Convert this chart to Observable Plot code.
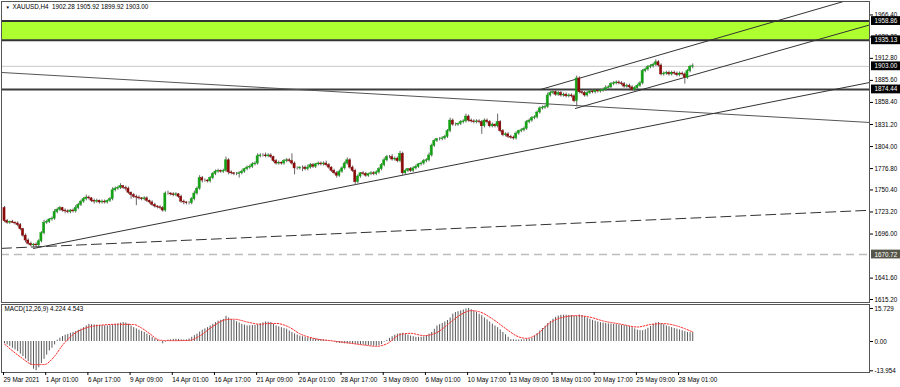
<!DOCTYPE html>
<html><head><meta charset="utf-8">
<script src="https://cdn.jsdelivr.net/npm/d3@7"></script>
<script src="https://cdn.jsdelivr.net/npm/@observablehq/plot@0.6"></script>
<style>
html,body{margin:0;padding:0;background:#fff;}
#chart{width:900px;height:387px;overflow:hidden;position:relative;}
#chart svg{display:block;overflow:visible;}
</style></head><body><div id="chart"></div>
<script>
// ---------- data (XAUUSD H4, one entry per bar) ----------
const title = "XAUUSD,H4  1902.28 1905.92 1899.92 1903.00";
const macdTitle = "MACD(12,26,9) 4.224 4.543";
const firstOpen = 1728;
const closes = [
1712,1710,1711,1710,1709,1707,1702,1694,1688,1684,
1682,1683,1682,1687,1697,1710,1711,1714,1715,1723,
1726,1728,1725,1724,1723,1725,1724,1728,1732,1736,
1739,1741,1740,1737,1736,1737,1735,1736,1735,1737,
1739,1750,1752,1753,1755,1753,1752,1747,1744,1742,
1741,1740,1739,1740,1737,1735,1732,1730,1729,1728,
1725,1746,1746,1745,1744,1745,1742,1736,1735,1734,
1734,1739,1746,1752,1765,1762,1762,1761,1765,1770,
1773,1774,1773,1774,1787,1772,1771,1770,1770,1771,
1773,1776,1778,1779,1782,1783,1792,1793,1793,1792,
1793,1791,1786,1783,1784,1783,1786,1787,1786,1783,
1777,1777,1778,1778,1776,1778,1781,1779,1782,1783,
1782,1783,1781,1778,1774,1771,1768,1773,1777,1783,
1787,1778,1774,1760,1767,1771,1770,1768,1770,1771,
1770,1772,1776,1781,1787,1791,1791,1788,1789,1786,
1795,1771,1774,1776,1774,1777,1779,1782,1783,1786,
1787,1793,1805,1811,1813,1813,1814,1816,1823,1836,
1831,1831,1832,1834,1835,1841,1836,1835,1834,1835,
1834,1829,1836,1834,1829,1831,1829,1834,1823,1818,
1819,1816,1815,1814,1820,1823,1824,1826,1834,1836,
1839,1840,1846,1851,1852,1853,1867,1870,1871,1868,
1870,1867,1868,1866,1867,1866,1860,1888,1871,1870,
1867,1870,1872,1871,1873,1872,1873,1874,1876,1877,
1881,1882,1883,1882,1881,1878,1879,1877,1874,1876,
1879,1882,1897,1899,1902,1903,1905,1908,1904,1893,
1894,1895,1893,1895,1894,1892,1894,1893,1889,1897,
1902.28,1903.00];
const upperWick = [
2,2,1,2,1,2,2,1,2,2, 2,1,2,2,2,3,2,1,2,3, 2,2,1,2,2,1,2,3,2,2, 2,3,2,1,2,2,1,2,2,1,
2,3,2,2,3,1,2,2,1,2, 2,2,1,2,2,1,2,2,1,2, 2,2,3,1,2,2,1,2,2,1, 2,2,3,2,3,2,2,1,2,2,
2,2,1,2,4,2,2,1,2,2, 2,1,2,2,2,2,3,2,2,3, 2,2,1,2,2,1,2,2,2,9, 2,2,1,2,2,3,2,2,1,2,
2,2,3,2,1,2,2,2,2,2, 3,2,2,2,2,1,2,2,1,2, 2,2,2,2,3,2,2,3,2,2, 3,2,2,1,2,2,2,1,2,2,
2,3,2,2,1,2,2,2,2,3, 2,2,1,2,2,3,2,2,2,2, 2,2,2,2,2,2,1,10,2,2, 2,2,2,2,2,1,2,2,2,2,
2,2,2,2,2,2,3,2,2,2, 2,2,2,2,2,2,2,3,2,2, 2,2,3,2,2,2,2,2,3,2, 2,2,2,2,2,2,2,2,2,2,
2,2,2,2,2,2,2,3,2,2, 2,2,2,2,2,2,2,2,2,2, 2,2.92];
const lowerWick = [
2,2,2,1,2,2,2,2,3,2, 2,3,3,2,2,2,2,2,2,2, 2,2,2,3,2,2,2,2,2,2, 2,2,2,2,3,2,2,2,2,2,
2,2,2,2,2,2,3,2,5,2, 10,2,2,2,2,2,2,2,2,2, 2,2,2,2,2,2,2,2,3,2, 2,2,2,2,2,3,2,2,2,2,
2,2,2,2,2,3,2,2,2,5, 2,2,2,2,2,2,2,2,2,2, 2,2,2,2,2,2,2,2,2,2, 8,2,2,5,2,2,2,2,2,2,
2,2,2,2,2,2,3,2,2,2, 2,2,2,4,2,2,2,2,2,2, 2,2,2,2,2,2,2,2,2,2, 2,3,2,2,2,2,2,2,2,2,
2,2,2,2,2,2,2,2,2,2, 2,2,2,2,2,2,2,2,2,2, 2,10,2,2,2,2,2,2,2,2, 2,2,2,2,2,2,2,2,2,2,
2,2,2,2,2,2,2,2,2,2, 2,2,2,2,2,2,2,7,2,2, 2,2,2,2,2,2,2,2,2,2, 2,2,2,2,2,2,2,2,2,2,
2,2,2,2,2,2,2,2,2,2, 2,2,2,2,2,2,2,2,8,2, 2,2.36];
const macdMain = [
-1.0,-1.6,-2.3,-3.2,-4.0,-4.8,-6.0,-7.2,-8.4,-9.6,
-11.4,-13.2,-13.9,-12.5,-10.5,-8.5,-6.5,-4.5,-3.2,-1.6,
0.6,1.6,2.4,3.0,3.4,3.9,4.3,4.7,5.3,5.9,
6.6,7.4,8.2,8.0,7.9,7.8,7.7,7.6,7.5,7.4,
7.6,7.9,8.2,8.4,8.7,9.0,8.8,8.2,7.4,6.6,
6.0,5.4,4.8,4.3,3.5,2.8,2.0,1.2,0.6,0.2,
-1.1,-0.3,0.6,0.8,1.0,1.1,1.0,0.8,0.7,0.8,
1.2,2.0,2.8,3.5,4.5,5.4,6.0,6.6,7.4,8.2,
9.0,9.7,10.1,10.5,12.0,11.2,10.5,10.0,9.4,8.8,
8.2,7.8,7.4,7.5,7.6,7.7,8.0,8.5,8.9,9.3,
9.2,9.0,8.2,7.4,7.0,6.6,6.2,5.9,5.0,4.3,
3.6,3.1,2.6,2.3,2.0,1.7,1.5,1.3,1.2,1.0,
0.9,0.8,0.6,0.4,0.2,-0.3,-0.8,-0.9,-1.0,-1.1,
-1.1,-1.2,-1.3,-1.4,-1.5,-1.6,-1.7,-1.9,-2.0,-2.1,
-2.2,-2.3,-2.0,-1.5,-0.3,0.5,1.5,2.3,3.0,3.5,
3.8,3.9,3.3,3.0,2.6,2.3,2.0,2.0,2.0,2.2,
2.8,3.5,4.3,5.8,7.4,8.0,8.6,9.3,10.0,11.2,
13.0,13.8,14.2,14.6,15.0,15.5,15.7,15.1,14.5,13.8,
13.0,12.3,11.2,10.3,9.3,8.3,7.4,6.6,5.5,4.3,
3.2,2.0,0.9,0.8,0.7,0.7,0.8,0.8,0.9,1.1,
1.6,2.4,3.8,5.0,6.2,7.3,8.5,9.6,10.6,11.5,
12.1,12.5,12.5,12.5,12.4,12.3,12.1,12.0,12.6,12.4,
11.8,11.2,10.6,10.1,9.7,9.3,9.0,8.8,8.6,8.4,
8.3,8.1,8.0,7.9,7.7,7.5,7.3,7.0,6.6,6.0,
5.4,5.2,5.1,5.6,6.3,7.2,8.2,8.8,9.0,8.5,
8.0,7.4,7.0,6.6,6.2,5.9,5.5,5.1,4.7,4.3,
4.2,4.224];
const signalBar = [0,6,11,15,19,22,26,31,36,43,49,52,55,59,64,70,74,79,84,87,93,97,100,103,108,112,118,125,131,137,141,145,150,154,159,164,169,173,177,180,185,190,195,198,202,207,212,217,222,227,234,240,245,250,255,258,261];
const signalVal = [-1.2,-7.3,-11.0,-11.0,-7.0,-1.8,3.3,6.5,7.7,8.2,8.1,6.4,3.8,0.6,0.4,0.5,2.6,7.2,10.4,10.6,9.0,8.2,8.6,8.6,6.8,3.7,1.3,0.2,-0.8,-1.8,-2.3,-1.1,3.3,3.9,2.8,4.3,9.0,12.8,14.7,14.2,10.8,6.2,2.2,1.5,3.5,9.0,11.6,12.3,11.6,9.8,8.2,6.9,8.1,8.5,7.4,6.1,4.543];
const dateTickBar = [0,16,32,48,64,80,96,112,128,144,160,176,192,208,224,240,256];
const dateLabels = ["29 Mar 2021","1 Apr 01:00","6 Apr 17:00","9 Apr 09:00","14 Apr 01:00","16 Apr 17:00","21 Apr 09:00","26 Apr 01:00","28 Apr 17:00","3 May 09:00","6 May 01:00","10 May 17:00","13 May 09:00","18 May 01:00","20 May 17:00","25 May 09:00","28 May 01:00"];
const priceTicks = [1966.40,1939.20,1912.80,1885.60,1858.40,1831.20,1804.00,1776.80,1750.40,1723.20,1696.00,1641.60,1615.20];
const macdTickVals = [15.729, 0, -13.954];
const macdTickText = ["15.729", "0.00", "-13.954"];
const zone = {lo: 1935.13, hi: 1958.86};
const resistance = 1874.44;
const bid = 1903.00;
const lowLevel = 1670.72;
const boxedLevels = [1958.86, 1935.13, 1903.00, 1874.44, 1670.72];
// drawn objects: anchor points as [bar, price]
const supportLine = [[11.0,1678.2],[328.03,1883.0]];
const longDashLine = [[-1.138,1678.3],[328.03,1725.3]];
const fallingLine = [[-1.138,1895.4],[328.03,1833.7]];
const channelUpper = [[203.3,1874.4],[318.2,1983.0]];
const channelLower = [[216.5,1851.0],[328.03,1954.0]];

// ---------- build ----------
const candles = closes.map((c, i) => {
  const o = i === 0 ? firstOpen : closes[i - 1];
  return {i, open: o, close: c, high: Math.max(o, c) + upperWick[i], low: Math.min(o, c) - lowerWick[i]};
});
const macdData = macdMain.map((v, i) => ({i, v}));
const signalData = signalBar.map((b, k) => ({i: b, v: signalVal[k]}));

const X0 = -1.138, X1 = 328.03;
const PMIN = 1611.5, PMAX = 1983.0;
const font = "'Liberation Sans', Arial, sans-serif";
const pxPerBar = (869 - 1) / (X1 - X0);
const pricePerPx = (PMAX - PMIN) / 301;
const boxX1 = X1 + 2 / pxPerBar, boxX2 = X1 + 32 / pxPerBar;

const main = Plot.plot({
  width: 900, height: 303,
  marginTop: 1, marginBottom: 1, marginLeft: 1, marginRight: 31,
  x: {domain: [X0, X1], axis: null},
  y: {domain: [PMIN, PMAX], axis: null},
  style: {fontFamily: font, fontSize: "6.3px", background: "#fff", color: "#000"},
  marks: [
    Plot.rect([zone], {x1: () => X0, x2: () => X1, y1: "lo", y2: "hi", fill: "#adff2f"}),
    Plot.ruleY([zone.lo, zone.hi], {stroke: "#333", strokeWidth: 2}),
    Plot.ruleY([bid], {stroke: "#c8c8c8", strokeWidth: 1}),
    Plot.ruleY([resistance], {stroke: "#3c3c3c", strokeWidth: 2}),
    Plot.ruleY([lowLevel], {stroke: "#bdbdbd", strokeWidth: 1.6, strokeDasharray: "8,5"}),
    Plot.line(longDashLine, {x: d => d[0], y: d => d[1], stroke: "#333", strokeWidth: 1, strokeDasharray: "10,5"}),
    Plot.line(fallingLine, {x: d => d[0], y: d => d[1], stroke: "#555", strokeWidth: 1}),
    Plot.line(supportLine, {x: d => d[0], y: d => d[1], stroke: "#333", strokeWidth: 1}),
    Plot.line(channelUpper, {x: d => d[0], y: d => d[1], stroke: "#333", strokeWidth: 1}),
    Plot.line(channelLower, {x: d => d[0], y: d => d[1], stroke: "#333", strokeWidth: 1}),
    Plot.ruleX(candles, {x: "i", y1: "low", y2: "high", stroke: "#666", strokeWidth: 1}),
    Plot.rect(candles, {
      x1: d => d.i - 0.4, x2: d => d.i + 0.4, y1: "open", y2: "close",
      fill: d => d.close >= d.open ? "#14a014" : "#8b0a0a",
      stroke: d => d.close >= d.open ? "#14a014" : "#8b0a0a", strokeWidth: 0.5
    }),
    Plot.frame({stroke: "#555"}),
    Plot.axisY(priceTicks, {anchor: "right", tickFormat: d3.format(".2f"), tickSize: 3, tickPadding: 2, fontSize: 6.3, label: null}),
    Plot.rect(boxedLevels, {
      x1: () => boxX1, x2: () => boxX2,
      y1: d => d - 4.4 * pricePerPx, y2: d => d + 4.4 * pricePerPx,
      fill: d => d === lowLevel ? "#55554a" : "#000"
    }),
    Plot.text(boxedLevels, {x: () => X1, y: d => d, text: d => d.toFixed(2), dx: 5, textAnchor: "start", fill: "#fff", fontSize: 6.3}),
    Plot.text(["▼"], {frameAnchor: "top-left", dx: 4, dy: 4, lineAnchor: "top", fontSize: 4.5, fill: "#000"}),
    Plot.text([title], {frameAnchor: "top-left", dx: 11, dy: 3, lineAnchor: "top", fontSize: 6.3, fill: "#000"})
  ]
});

const macd = Plot.plot({
  width: 900, height: 84,
  marginTop: 1, marginBottom: 15, marginLeft: 1, marginRight: 31,
  x: {domain: [X0, X1], label: null},
  y: {domain: [-14.76, 17.62], axis: null},
  style: {fontFamily: font, fontSize: "6.3px", background: "#fff", color: "#000"},
  marks: [
    Plot.ruleX(macdData, {x: "i", y1: 0, y2: "v", stroke: "#5a5a5a", strokeWidth: 1}),
    Plot.line(signalData, {x: "i", y: "v", stroke: "#ff2a2a", strokeWidth: 1, strokeDasharray: "1.5,1.5", curve: "monotone-x"}),
    Plot.frame({stroke: "#555"}),
    Plot.axisX({ticks: dateTickBar, tickFormat: d => dateLabels[dateTickBar.indexOf(d)], tickSize: 3, tickPadding: 2, textAnchor: "start", dx: -1, fontSize: 6.4, label: null}),
    Plot.axisY(macdTickVals, {anchor: "right", tickFormat: d => macdTickText[macdTickVals.indexOf(d)], tickSize: 3, tickPadding: 2, fontSize: 6.3, label: null}),
    Plot.text([macdTitle], {frameAnchor: "top-left", dx: 3, dy: 2, lineAnchor: "top", fontSize: 6.3, fill: "#000"})
  ]
});

const root = document.getElementById("chart");
root.appendChild(main);
root.appendChild(macd);
</script>
</body></html>
